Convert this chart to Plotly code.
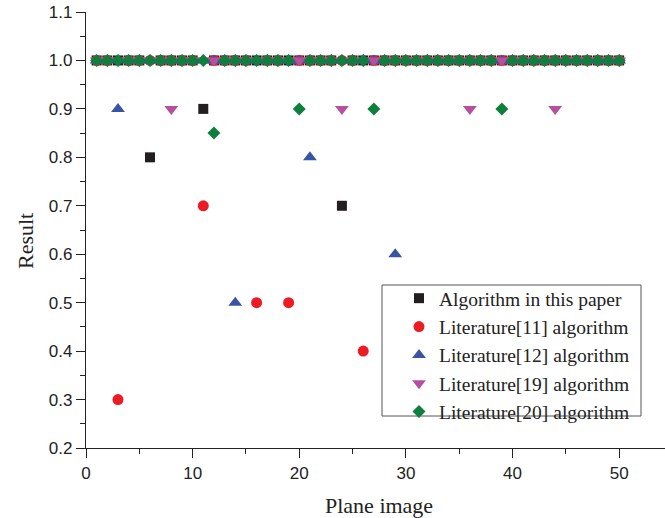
import plotly.graph_objects as go

x_images = list(range(1, 51))

# Values that differ from 1.0 (x -> result)
alg_paper = {6: 0.8, 11: 0.9, 24: 0.7}
lit11 = {3: 0.3, 11: 0.7, 16: 0.5, 19: 0.5, 26: 0.4}
lit12 = {3: 0.9, 14: 0.5, 21: 0.8, 29: 0.6}
lit19 = {8: 0.9, 24: 0.9, 36: 0.9, 44: 0.9}
lit20 = {12: 0.85, 20: 0.9, 27: 0.9, 39: 0.9}

series_names = ["Algorithm in this paper", "Literature[11] algorithm",
                "Literature[12] algorithm", "Literature[19] algorithm",
                "Literature[20] algorithm"]
series_devs = [alg_paper, lit11, lit12, lit19, lit20]
symbols = ["square", "circle", "triangle-up", "triangle-down", "diamond"]
colors = ["#231f20", "#ed1c24", "#3a54a4", "#b5509f", "#0f7f3e"]
sizes = [10, 11, 12, 12, 10]

fig = go.Figure()
for name, dev, sym, col, sz in zip(series_names, series_devs, symbols, colors, sizes):
    ys = [dev.get(x, 1.0) for x in x_images]
    fig.add_trace(go.Scatter(
        x=x_images, y=ys, mode="markers", name=name,
        marker=dict(symbol=sym, color=col, size=sz, line=dict(width=0)),
    ))

FW, FH = 665, 518
L, R, T, B = 86, 0, 12, 70
pw, ph = FW - L - R, FH - T - B

def px(page_x):
    return (page_x - L) / pw

def py(page_y):
    return (FH - B - page_y) / ph

fig.update_layout(
    width=FW, height=FH,
    margin=dict(l=L, r=R, t=T, b=B, autoexpand=False),
    plot_bgcolor="white", paper_bgcolor="white",
    showlegend=True,
    legend=dict(
        x=px(399), y=py(279), xanchor="left", yanchor="top",
        borderwidth=0, bgcolor="rgba(0,0,0,0)",
        font=dict(family="Liberation Serif", size=19.5, color="#222"),
        tracegroupgap=0, itemsizing="trace",
    ),
    shapes=[dict(type="rect", xref="paper", yref="paper",
                 x0=px(382), x1=px(641), y0=py(416), y1=py(285),
                 line=dict(color="#555", width=1), fillcolor="rgba(0,0,0,0)")],
    annotations=[
        dict(text="Plane image", xref="paper", yref="paper",
             x=px(379), y=py(505), xanchor="center", yanchor="middle", showarrow=False,
             font=dict(family="Liberation Serif", size=22, color="#222")),
        dict(text="Result", xref="paper", yref="paper", textangle=-90,
             x=px(25), y=py(241), xanchor="center", yanchor="middle", showarrow=False,
             font=dict(family="Liberation Serif", size=22, color="#222")),
    ],
)
fig.update_xaxes(
    range=[0, 54.3], showgrid=False, zeroline=False, automargin=False,
    showline=True, linecolor="#222", linewidth=1.2,
    ticks="outside", tickcolor="#222", ticklen=9, tickwidth=1.2,
    tick0=0, dtick=10,
    minor=dict(ticks="outside", ticklen=5, tickcolor="#222", dtick=5, tick0=0, showgrid=False),
    tickfont=dict(family="Liberation Sans", size=17, color="#222"),
)
fig.update_yaxes(
    range=[0.2, 1.1], showgrid=False, zeroline=False, automargin=False,
    showline=True, linecolor="#222", linewidth=1.2,
    ticks="outside", tickcolor="#222", ticklen=9, tickwidth=1.2,
    tick0=0.2, dtick=0.1, tickformat=".1f", ticklabeloverflow="allow",
    minor=dict(ticks="outside", ticklen=5, tickcolor="#222", dtick=0.05, tick0=0.2, showgrid=False),
    tickfont=dict(family="Liberation Sans", size=17, color="#222"),
)

fig.write_html(
    "out.html",
    config={"displayModeBar": False},
    post_script="document.body.style.margin='0';document.body.style.overflow='hidden';",
)
